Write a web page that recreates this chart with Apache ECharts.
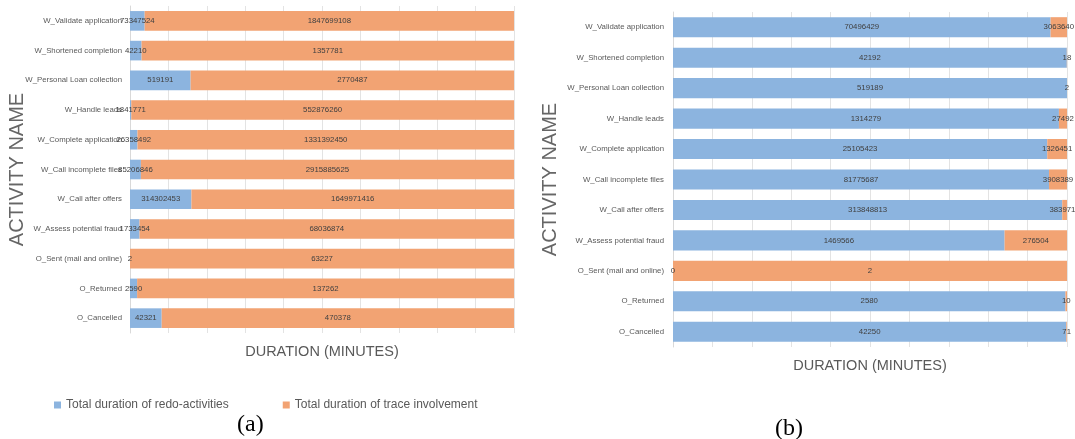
<!DOCTYPE html>
<html>
<head>
<meta charset="utf-8">
<script src="https://cdn.jsdelivr.net/npm/echarts@6/dist/echarts.min.js"></script>
<style>
html,body{margin:0;padding:0;background:#fff;}
#chart{width:1075px;height:439px;}
</style>
</head>
<body>
<div id="chart"></div>
<script>
// Categories (top to bottom)
const categories = [
  'W_Validate application',
  'W_Shortened completion',
  'W_Personal Loan collection',
  'W_Handle leads',
  'W_Complete application',
  'W_Call incomplete files',
  'W_Call after offers',
  'W_Assess potential fraud',
  'O_Sent (mail and online)',
  'O_Returned',
  'O_Cancelled'
];
// (a)
const redoA  = [73347524, 42210, 519191, 1841771, 26358492, 85206846, 314302453, 1733454, 2, 2590, 42321];
const traceA = [1847699108, 1357781, 2770487, 552876260, 1331392450, 2915885625, 1649971416, 68036874, 63227, 137262, 470378];
// (b)
const redoB  = [70496429, 42192, 519189, 1314279, 25105423, 81775687, 313848813, 1469566, 0, 2580, 42250];
const traceB = [3063640, 18, 2, 27492, 1326451, 3908389, 3839712, 276504, 2, 10, 71];

const seriesNames = ['Total duration of redo-activities', 'Total duration of trace involvement'];
const axisNameY = 'ACTIVITY NAME';
const axisNameX = 'DURATION (MINUTES)';

const BLUE = '#8cb4df';
const ORANGE = '#f2a373';
const SANS = '"Liberation Sans", Arial, sans-serif';

function shares(a, b) {
  return a.map((v, i) => v / (a[i] + b[i]));
}

function barSeries(name, raw, other, color, idx, stack) {
  return {
    name: name,
    type: 'bar',
    stack: stack,
    xAxisIndex: idx,
    yAxisIndex: idx,
    barCategoryGap: '34%',
    itemStyle: { color: color },
    data: shares(raw, other),
    label: {
      show: true,
      position: 'inside',
      color: '#404040',
      fontFamily: SANS,
      fontSize: 7.8,
      formatter: p => String(raw[p.dataIndex])
    },
    emphasis: { disabled: true },
    animation: false
  };
}

function xAxis(idx) {
  return {
    type: 'value', gridIndex: idx, min: 0, max: 1, interval: 0.1,
    axisLabel: { show: false }, axisTick: { show: false }, axisLine: { show: false },
    splitLine: { show: true, lineStyle: { color: '#e3e3e3', width: 1 } },
    name: axisNameX, nameLocation: 'middle', nameGap: 11, nameMoveOverlap: false,
    nameTextStyle: { fontFamily: SANS, fontSize: 14.5, color: '#595959', verticalAlign: 'top' }
  };
}
function yAxis(idx, gap, margin) {
  return {
    type: 'category', gridIndex: idx, data: categories, inverse: true,
    axisTick: { show: false },
    axisLine: { show: true, lineStyle: { color: '#d9d9d9' } },
    axisLabel: { fontFamily: SANS, fontSize: 7.8, color: '#595959', margin: margin },
    name: axisNameY, nameLocation: 'middle', nameRotate: 90, nameGap: gap, nameMoveOverlap: false,
    nameTextStyle: { fontFamily: SANS, fontSize: 20, color: '#666666' }
  };
}

const chart = echarts.init(document.getElementById('chart'), null, { renderer: 'canvas' });
chart.setOption({
  backgroundColor: '#ffffff',
  animation: false,
  title: [
    { text: '(a)', left: 237, top: 413, padding: 0,
      textStyle: { fontFamily: '"Liberation Serif", serif', fontSize: 24, fontWeight: 'normal', color: '#000' } },
    { text: '(b)', left: 775, top: 417, padding: 0,
      textStyle: { fontFamily: '"Liberation Serif", serif', fontSize: 24, fontWeight: 'normal', color: '#000' } }
  ],
  legend: {
    data: seriesNames,
    left: 49, top: 394,
    itemWidth: 7, itemHeight: 7, itemGap: 54,
    icon: 'rect',
    textStyle: { fontFamily: SANS, fontSize: 12, color: '#595959' },
    selectedMode: false
  },
  grid: [
    { left: 130, top: 6, width: 384, height: 327, outerBoundsMode: 'none', containLabel: false },
    { left: 673, top: 12, width: 394, height: 335, outerBoundsMode: 'none', containLabel: false }
  ],
  xAxis: [xAxis(0), xAxis(1)],
  yAxis: [yAxis(0, 103, 8), yAxis(1, 113, 9)],
  series: [
    barSeries(seriesNames[0], redoA, traceA, BLUE, 0, 'a'),
    barSeries(seriesNames[1], traceA, redoA, ORANGE, 0, 'a'),
    barSeries('redo (b)', redoB, traceB, BLUE, 1, 'b'),
    barSeries('trace (b)', traceB, redoB, ORANGE, 1, 'b')
  ]
});
</script>
</body>
</html>
